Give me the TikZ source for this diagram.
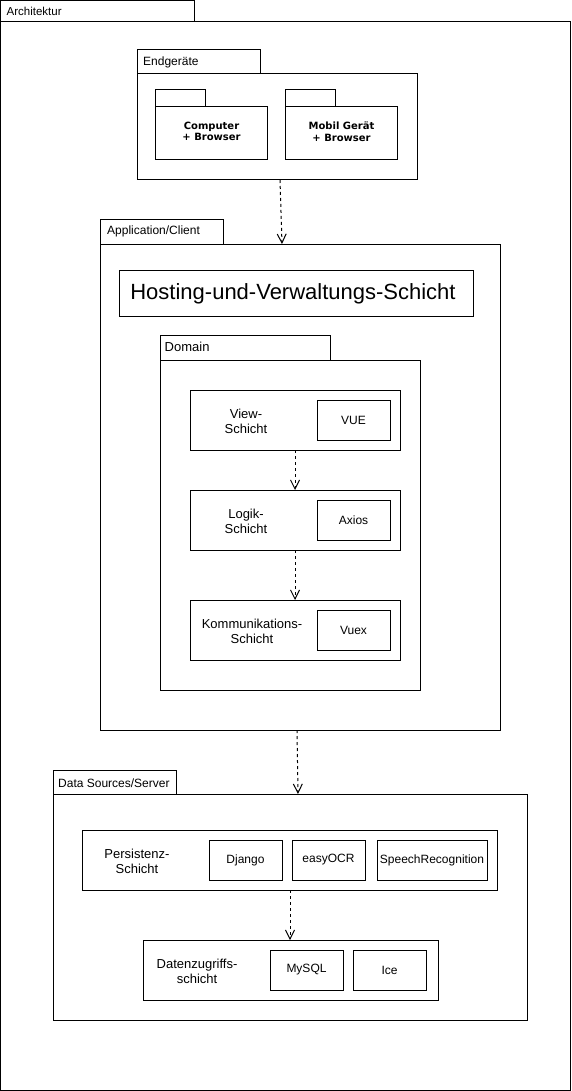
\documentclass[tikz,border=0pt]{standalone}
\usepackage{fontspec}
\setmainfont{Liberation Sans}
\newfontfamily\boldfam{DejaVu Sans}
\usetikzlibrary{arrows.meta}
\tikzset{
  box/.style={draw, line width=1pt, inner sep=0pt, outer sep=0pt, anchor=north west, fill=white},
  tablbl/.style={anchor=west, inner sep=0pt, font=\fontsize{12}{14}\selectfont},
  lyr/.style={align=center, inner sep=0pt, font=\fontsize{13}{15}\selectfont},
  tech/.style={inner sep=0pt, font=\fontsize{12}{14}\selectfont},
  dev/.style={align=center, inner sep=0pt, font=\boldfam\bfseries\fontsize{10}{11.5}\selectfont},
  dep/.style={dashed, dash pattern=on 3pt off 3pt, line width=1pt, -{Straight Barb[length=9pt,width=9pt,line width=1pt]}},
}
\begin{document}
\begin{tikzpicture}[x=1pt,y=-1pt]
\useasboundingbox (0,0) rectangle (571,1091);
% Outer frame
\node[box, minimum width=194pt, minimum height=22pt] (archtab) at (0.5,0.5) {};
\node[box, minimum width=569.5pt, minimum height=1068pt] (arch) at (0.5,22) {};
\node[tablbl, font=\fontsize{11.5}{13}\selectfont] (archlbl) at (6.5,11) {Architektur};

% Endgeraete
\node[box, minimum width=123pt, minimum height=24pt] (endgtab) at (137,50) {};
\node[box, minimum width=280pt, minimum height=106pt] (endg) at (137,74) {};
\node[tablbl] (endglbl) at (143,62) {Endgeräte};
\node[box, minimum width=50pt, minimum height=17pt] (comptab) at (155,90) {};
\node[box, minimum width=112pt, minimum height=53pt] (comp) at (155,107) {};
\node[dev] (complbl) at (211.5,131.5) {Computer\\+ Browser};
\node[box, minimum width=50pt, minimum height=17pt] (mobtab) at (285,90) {};
\node[box, minimum width=112pt, minimum height=53pt] (mob) at (285,107) {};
\node[dev] (moblbl) at (341.5,131.5) {Mobil Gerät\\+ Browser};

% Application/Client
\node[box, minimum width=123pt, minimum height=24pt] (apptab) at (100,220) {};
\node[box, minimum width=400pt, minimum height=486pt] (app) at (100,244) {};
\node[tablbl] (applbl) at (107,231) {Application/Client};
\node[box, minimum width=354pt, minimum height=46pt] (host) at (119,270) {};
\node[inner sep=0pt, font=\fontsize{22}{26}\selectfont] (hostlbl) at (293,294) {Hosting-und-Verwaltungs-Schicht};

% Domain
\node[box, minimum width=170pt, minimum height=25pt] (domtab) at (160,335) {};
\node[box, minimum width=260pt, minimum height=330pt] (dom) at (160,360) {};
\node[tablbl, font=\fontsize{13}{15}\selectfont] (domlbl) at (164.5,347) {Domain};

\node[box, minimum width=210pt, minimum height=60pt] (view) at (190,390) {};
\node[lyr] (viewlbl) at (246,421) {View-\\Schicht};
\node[box, minimum width=73pt, minimum height=40pt] (vue) at (317,400) {};
\node[tech] (vuelbl) at (353.5,420) {VUE};

\node[box, minimum width=210pt, minimum height=60pt] (logik) at (190,490) {};
\node[lyr] (logiklbl) at (246,521) {Logik-\\Schicht};
\node[box, minimum width=73pt, minimum height=40pt] (axios) at (317,500) {};
\node[tech] (axioslbl) at (353.5,520) {Axios};

\node[box, minimum width=210pt, minimum height=60pt] (komm) at (190,600) {};
\node[lyr] (kommlbl) at (252,631) {Kommunikations-\\Schicht};
\node[box, minimum width=73pt, minimum height=40pt] (vuex) at (317,610) {};
\node[tech] (vuexlbl) at (353.5,630) {Vuex};

% Data Sources/Server
\node[box, minimum width=123pt, minimum height=24pt] (datatab) at (53,770) {};
\node[box, minimum width=474pt, minimum height=226pt] (data) at (53,794) {};
\node[tablbl] (datalbl) at (58,783) {Data Sources/Server};

\node[box, minimum width=415pt, minimum height=60pt] (pers) at (82,830) {};
\node[lyr] (perslbl) at (137,861) {Persistenz-\\Schicht};
\node[box, minimum width=73pt, minimum height=40pt] (django) at (209,840) {};
\node[tech] (djangolbl) at (245.5,860) {Django};
\node[box, minimum width=73pt, minimum height=40pt] (ocr) at (292,840) {};
\node[tech] (ocrlbl) at (328.5,860) {easyOCR};
\node[box, minimum width=110pt, minimum height=40pt] (speech) at (377,840) {};
\node[tech] (speechlbl) at (432,860) {SpeechRecognition};

\node[box, minimum width=295pt, minimum height=60pt] (dat) at (143,940) {};
\node[lyr] (datlbl) at (197,971) {Datenzugriffs-\\schicht};
\node[box, minimum width=73pt, minimum height=40pt] (mysql) at (270,950) {};
\node[tech] (mysqllbl) at (306.5,970) {MySQL};
\node[box, minimum width=73pt, minimum height=40pt] (ice) at (353,950) {};
\node[tech] (icelbl) at (389.5,970) {Ice};

% Dependencies
\draw[dep] ([xshift=143pt]endg.south west) -- ([xshift=182pt]app.north west);
\draw[dep] ([xshift=105pt]view.south west) -- ([xshift=105pt]logik.north west);
\draw[dep] ([xshift=105pt]logik.south west) -- ([xshift=105pt]komm.north west);
\draw[dep] ([xshift=197pt]app.south west) -- ([xshift=245pt]data.north west);
\draw[dep] ([xshift=208pt]pers.south west) -- ([xshift=147pt]dat.north west);
\end{tikzpicture}
\end{document}
